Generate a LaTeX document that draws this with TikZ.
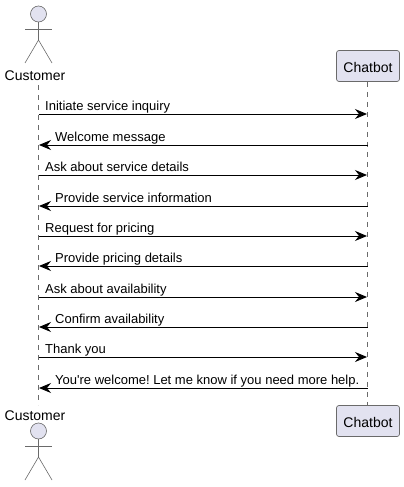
\documentclass[tikz,border=0pt]{standalone}
\usepackage{fontspec}
\setmainfont[Ligatures=TeXOff]{Liberation Sans}
\frenchspacing
\usetikzlibrary{arrows.meta}
\definecolor{partfill}{HTML}{E2E2F0}
\definecolor{partline}{HTML}{6A6A6A}
\tikzset{
  part/.style={draw=partline,fill=partfill,line width=0.7pt,rounded corners=2.5pt,
    minimum width=63pt,minimum height=31pt,inner sep=0pt,text height=12pt,text depth=0pt,
    font=\fontsize{14}{16}\selectfont},
  partlabel/.style={inner sep=0pt,font=\fontsize{14}{16}\selectfont},
  lifeline/.style={draw=partline,line width=0.6pt,dash pattern=on 5pt off 5pt},
  msg/.style={draw=black,line width=0.9pt,shorten >=0.5pt,-{Stealth[length=12pt,width=10pt,inset=4pt]}},
  msglabel/.style={inner sep=0pt,anchor=base west,font=\fontsize{13}{15}\selectfont},
  limb/.style={draw=partline,line width=0.6pt}
}
\newcommand{\stickman}[3]{% name, x, y of the head centre
  \node[circle,draw=partline,fill=partfill,line width=0.6pt,minimum size=16pt,inner sep=0pt] (#1) at (#2,#3) {};
  \coordinate (#1hip) at (#2,#3+26);
  \draw[limb] (#1.south) -- (#1hip);
  \draw[limb] (#2-13.5,#3+15.5) -- (#2+13.5,#3+15.5);
  \draw[limb] (#2-13.5,#3+49) -- (#1hip) -- (#2+13.5,#3+49);
}
\begin{document}
\begin{tikzpicture}[x=1pt,y=-1pt]
\useasboundingbox (0,0) rectangle (404,487);
% participants
\node[partlabel] (custtop) at (35,76) {Customer};
\node[partlabel] (custbot) at (35,416) {Customer};
\node[part] (bottop) at (368,66) {Chatbot};
\node[part] (botbot) at (368,421) {Chatbot};
\stickman{headtop}{38.5}{14}
\stickman{headbot}{38.5}{431}
% lifelines
\coordinate (custa) at (38.5,85);
\coordinate (custb) at (38.5,405);
\draw[lifeline] (custa) -- (custb);
\draw[lifeline] (bottop.south -| 367.5,0) -- (botbot.north -| 367.5,0);
% messages
\foreach \i/\y/\txt in {1/114/Initiate service inquiry,3/175/Ask about service details,
    5/236/Request for pricing,7/297/Ask about availability,9/357/Thank you}{
  \coordinate (c\i) at (38.5,\y);
  \coordinate (b\i) at (367.5,\y);
  \draw[msg] (c\i) -- (b\i);
  \node[msglabel] (t\i) at (45,\y-4) {\txt};
}
\foreach \i/\y/\txt in {2/145/Welcome message,4/206/Provide service information,
    6/266/Provide pricing details,8/327/Confirm availability,
    10/388/You're welcome! Let me know if you need more help.}{
  \coordinate (c\i) at (38.5,\y);
  \coordinate (b\i) at (367.5,\y);
  \draw[msg] (b\i) -- (c\i);
  \node[msglabel] (t\i) at (55,\y-4) {\txt};
}
\end{tikzpicture}
\end{document}
